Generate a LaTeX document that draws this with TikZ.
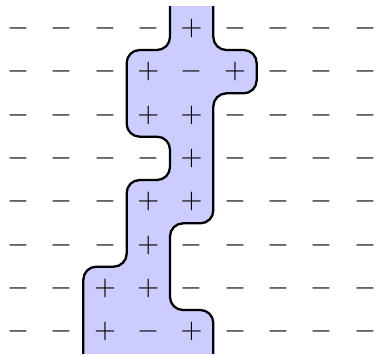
\documentclass[tikz,border=0pt]{standalone}
\usepackage{graphicx}
\begin{document}
\begin{tikzpicture}[x=1cm,y=1cm,
  sign/.style={inner sep=0pt},
  regionfill/.style={fill=blue!20, rounded corners=0.3cm},
  border/.style={draw=black, line width=1.5pt, rounded corners=0.3cm}]
\useasboundingbox (-0.423,0.654) rectangle (8.30,-7.516);
\begin{scope}
  \clip (-1,0.5) rectangle (9,-7.5);
  \path[regionfill] (3.5,1) -- (3.5,-0.5) -- (2.5,-0.5) -- (2.5,-2.5) -- (3.5,-2.5)
    -- (3.5,-3.5) -- (2.5,-3.5) -- (2.5,-5.5) -- (1.5,-5.5) -- (1.5,-8) -- (4.5,-8)
    -- (4.5,-6.5) -- (3.5,-6.5) -- (3.5,-4.5) -- (4.5,-4.5) -- (4.5,-1.5) -- (5.5,-1.5)
    -- (5.5,-0.5) -- (4.5,-0.5) -- (4.5,1) -- cycle;
  \draw[border] (3.5,1) -- (3.5,-0.5) -- (2.5,-0.5) -- (2.5,-2.5) -- (3.5,-2.5)
    -- (3.5,-3.5) -- (2.5,-3.5) -- (2.5,-5.5) -- (1.5,-5.5) -- (1.5,-8);
  \draw[border] (4.5,1) -- (4.5,-0.5) -- (5.5,-0.5) -- (5.5,-1.5) -- (4.5,-1.5)
    -- (4.5,-4.5) -- (3.5,-4.5) -- (3.5,-6.5) -- (4.5,-6.5) -- (4.5,-8);
\end{scope}
\foreach \row [count=\j from 0] in {
  {-,-,-,-,+,-,-,-,-},
  {-,-,-,+,-,+,-,-,-},
  {-,-,-,+,+,-,-,-,-},
  {-,-,-,-,+,-,-,-,-},
  {-,-,-,+,+,-,-,-,-},
  {-,-,-,+,-,-,-,-,-},
  {-,-,+,+,-,-,-,-,-},
  {-,-,+,-,+,-,-,-,-}}{
  \foreach \s [count=\i from 0] in \row {
    \node[sign] (s\i-\j) at (\i,-\j) {\scalebox{1.85}{$\s$}};
  }
}
\end{tikzpicture}
\end{document}
